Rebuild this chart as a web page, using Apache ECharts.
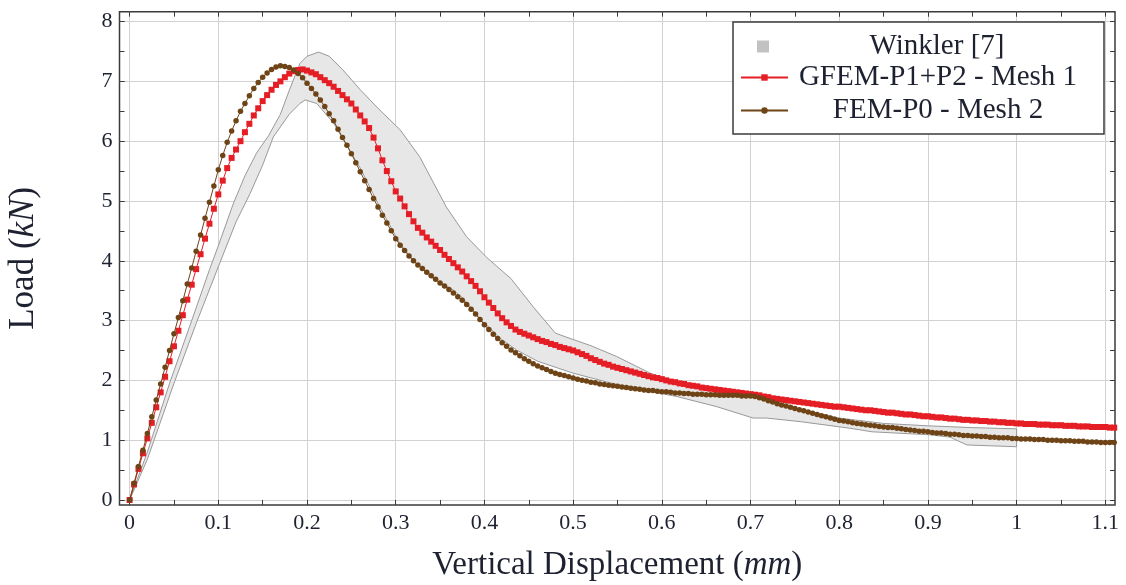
<!DOCTYPE html>
<html>
<head>
<meta charset="utf-8">
<title>Load - Vertical Displacement</title>
<script src="https://cdn.jsdelivr.net/npm/echarts@6/dist/echarts.min.js"></script>
<style>
  html, body { margin: 0; padding: 0; background: #fff; }
  #chart { width: 1126px; height: 585px; }
</style>
</head>
<body>
<div id="chart"></div>
<script>
// displacement step of both numerical curves (mm)
const dispStep = 0.005

// GFEM-P1+P2 - Mesh 1 (kN), one value per step from 0 to 1.11 mm
const gfemLoad = [
  0, 0.26, 0.52, 0.78, 1.03, 1.29, 1.55, 1.80, 2.06, 2.32,
  2.57, 2.83, 3.09, 3.35, 3.60, 3.86, 4.11, 4.37, 4.62, 4.87,
  5.11, 5.34, 5.55, 5.72, 5.86, 6.00, 6.15, 6.29, 6.43, 6.55,
  6.67, 6.77, 6.86, 6.94, 7.00, 7.07, 7.13, 7.17, 7.19, 7.20,
  7.18, 7.15, 7.12, 7.07, 7.02, 6.97, 6.91, 6.84, 6.77, 6.70,
  6.63, 6.53, 6.43, 6.33, 6.22, 6.06, 5.88, 5.68, 5.50, 5.33,
  5.16, 5.04, 4.91, 4.78, 4.66, 4.55, 4.47, 4.39, 4.32, 4.25,
  4.18, 4.10, 4.03, 3.96, 3.89, 3.82, 3.74, 3.66, 3.58, 3.49,
  3.39, 3.30, 3.21, 3.12, 3.04, 2.97, 2.91, 2.85, 2.81, 2.78,
  2.75, 2.72, 2.69, 2.66, 2.64, 2.61, 2.59, 2.56, 2.54, 2.52,
  2.50, 2.47, 2.44, 2.41, 2.37, 2.34, 2.31, 2.28, 2.26, 2.23,
  2.21, 2.19, 2.17, 2.15, 2.13, 2.11, 2.09, 2.07, 2.05, 2.04,
  2.02, 2.00, 1.98, 1.97, 1.95, 1.94, 1.92, 1.91, 1.90, 1.88,
  1.87, 1.86, 1.85, 1.84, 1.83, 1.82, 1.81, 1.80, 1.79, 1.78,
  1.77, 1.76, 1.75, 1.73, 1.72, 1.70, 1.69, 1.68, 1.67, 1.66,
  1.65, 1.64, 1.63, 1.62, 1.61, 1.60, 1.59, 1.58, 1.57, 1.56,
  1.56, 1.55, 1.54, 1.53, 1.52, 1.51, 1.50, 1.50, 1.49, 1.48,
  1.47, 1.46, 1.46, 1.45, 1.44, 1.43, 1.43, 1.42, 1.41, 1.40,
  1.40, 1.39, 1.38, 1.38, 1.37, 1.36, 1.36, 1.35, 1.34, 1.34,
  1.33, 1.33, 1.32, 1.32, 1.31, 1.31, 1.30, 1.30, 1.29, 1.29,
  1.28, 1.28, 1.27, 1.27, 1.27, 1.26, 1.26, 1.26, 1.25, 1.25,
  1.25, 1.24, 1.24, 1.24, 1.23, 1.23, 1.23, 1.22, 1.22, 1.22,
  1.22, 1.21, 1.21
]

// FEM-P0 - Mesh 2 (kN)
const femLoad = [
  0, 0.28, 0.56, 0.83, 1.11, 1.39, 1.67, 1.94, 2.22, 2.50,
  2.78, 3.05, 3.33, 3.61, 3.88, 4.16, 4.43, 4.71, 4.98, 5.25,
  5.52, 5.76, 5.98, 6.17, 6.34, 6.50, 6.63, 6.76, 6.88, 6.98,
  7.07, 7.14, 7.20, 7.24, 7.26, 7.25, 7.23, 7.19, 7.13, 7.06,
  6.97, 6.88, 6.79, 6.69, 6.58, 6.46, 6.34, 6.20, 6.06, 5.93,
  5.79, 5.64, 5.49, 5.34, 5.19, 5.04, 4.90, 4.76, 4.63, 4.50,
  4.37, 4.26, 4.17, 4.08, 4.00, 3.93, 3.87, 3.81, 3.75, 3.69,
  3.63, 3.58, 3.52, 3.46, 3.40, 3.34, 3.27, 3.19, 3.11, 3.02,
  2.93, 2.85, 2.77, 2.70, 2.63, 2.57, 2.51, 2.46, 2.41, 2.36,
  2.32, 2.28, 2.24, 2.21, 2.18, 2.15, 2.12, 2.10, 2.08, 2.06,
  2.04, 2.02, 2.00, 1.99, 1.97, 1.96, 1.94, 1.93, 1.92, 1.91,
  1.90, 1.89, 1.88, 1.87, 1.86, 1.85, 1.84, 1.83, 1.83, 1.82,
  1.81, 1.81, 1.80, 1.79, 1.79, 1.78, 1.78, 1.77, 1.77, 1.77,
  1.76, 1.76, 1.76, 1.75, 1.75, 1.75, 1.75, 1.75, 1.74, 1.74,
  1.74, 1.73, 1.71, 1.69, 1.66, 1.64, 1.61, 1.59, 1.57, 1.55,
  1.53, 1.51, 1.49, 1.47, 1.45, 1.43, 1.41, 1.39, 1.37, 1.35,
  1.33, 1.32, 1.31, 1.29, 1.28, 1.27, 1.26, 1.25, 1.24, 1.23,
  1.22, 1.21, 1.21, 1.20, 1.19, 1.18, 1.17, 1.16, 1.15, 1.15,
  1.14, 1.13, 1.12, 1.12, 1.11, 1.10, 1.10, 1.09, 1.08, 1.08,
  1.07, 1.07, 1.06, 1.06, 1.05, 1.05, 1.04, 1.04, 1.04, 1.03,
  1.03, 1.02, 1.02, 1.02, 1.01, 1.01, 1.01, 1.00, 1.00, 1.00,
  0.99, 0.99, 0.99, 0.98, 0.98, 0.98, 0.97, 0.97, 0.97, 0.96,
  0.96, 0.96, 0.96
]

// Winkler [7] envelope: upper and lower edge, [mm, kN]
const winklerUpper = [
  [0, 0], [0.02, 0.8], [0.045, 1.95], [0.07, 3.0], [0.09, 3.85], [0.1, 4.25],
  [0.117, 4.96], [0.13, 5.42], [0.143, 5.8], [0.157, 6.1], [0.17, 6.45],
  [0.18, 6.85], [0.192, 7.3], [0.2, 7.42], [0.213, 7.49], [0.225, 7.42],
  [0.24, 7.2], [0.26, 6.86], [0.28, 6.55], [0.305, 6.19], [0.327, 5.74],
  [0.357, 4.9], [0.38, 4.4], [0.403, 4.05], [0.43, 3.7], [0.455, 3.23],
  [0.48, 2.79], [0.493, 2.72], [0.52, 2.58], [0.549, 2.4], [0.587, 2.12],
  [0.624, 1.94], [0.66, 1.86], [0.7, 1.78], [0.75, 1.53], [0.8, 1.37],
  [0.85, 1.28], [0.9, 1.24], [0.95, 1.21], [1.0, 1.19]
]
const winklerLower = [
  [0, 0], [0.02, 0.68], [0.05, 1.95], [0.075, 2.95], [0.1, 3.9], [0.12, 4.65],
  [0.136, 5.13], [0.15, 5.6], [0.162, 6.07], [0.18, 6.45], [0.192, 6.63],
  [0.198, 6.69], [0.211, 6.63], [0.23, 6.3], [0.26, 5.55], [0.282, 4.9],
  [0.305, 4.28], [0.32, 4.0], [0.339, 3.73], [0.365, 3.51], [0.376, 3.37],
  [0.395, 3.03], [0.418, 2.7], [0.436, 2.51], [0.46, 2.32], [0.5, 2.12],
  [0.557, 1.9], [0.617, 1.73], [0.662, 1.56], [0.703, 1.37], [0.718, 1.37],
  [0.756, 1.31], [0.812, 1.2], [0.837, 1.14], [0.902, 1.09], [0.925, 1.05],
  [0.944, 0.92], [1.0, 0.89]
]

const xTicks = [0, 0.1, 0.2, 0.3, 0.4, 0.5, 0.6, 0.7, 0.8, 0.9, 1, 1.1]
const xMinorTicks = [0, 0.05, 0.1, 0.15, 0.2, 0.25, 0.3, 0.35, 0.4, 0.45, 0.5, 0.55,
  0.6, 0.65, 0.7, 0.75, 0.8, 0.85, 0.9, 0.95, 1, 1.05, 1.1]
const yTicks = [0, 1, 2, 3, 4, 5, 6, 7, 8]
const yMinorTicks = [0, 0.5, 1, 1.5, 2, 2.5, 3, 3.5, 4, 4.5, 5, 5.5, 6, 6.5, 7, 7.5, 8]

const FONT = '"Liberation Serif", "DejaVu Serif", serif'
const TEXT = '#1d2130'
const TICK = '#3a3a3a'
const X_MIN = -0.0114, X_MAX = 1.1109
const Y_MIN = -0.084, Y_MAX = 8.165

const toPairs = arr => arr.map((v, i) => [+(i * dispStep).toFixed(3), v])

const chart = echarts.init(document.getElementById('chart'))

const tickAxis = (position, ticks) => ({
  type: 'value',
  position: position,
  axisLine: { show: false, onZero: false },
  axisTick: { show: true, inside: true, length: 5, customValues: ticks, lineStyle: { color: TICK, width: 1 } },
  axisLabel: { show: false },
  splitLine: { show: false }
})

const legendText = w => ({
  fontFamily: FONT, fontSize: 29, color: TEXT,
  rich: { t: { width: w, align: 'center', fontFamily: FONT, fontSize: 29, lineHeight: 24, color: TEXT } }
})

const option = {
  animation: false,
  backgroundColor: '#fff',
  grid: {
    left: 119.5, right: 11, top: 11.7, bottom: 80,
    outerBoundsMode: 'none',
    show: true, borderColor: '#3b3b3b', borderWidth: 1.5
  },
  legend: [
    {
      // box of the legend, holds the Winkler entry
      left: 733, top: 22,
      orient: 'vertical',
      padding: [10, 4, 73, 24],
      borderColor: '#3b3b3b', borderWidth: 1.5,
      backgroundColor: '#fff',
      itemWidth: 12, itemHeight: 12, itemGap: 5,
      selectedMode: false,
      data: [{ name: 'Winkler [7]', icon: 'rect', itemStyle: { color: '#c2c2c2' } }],
      formatter: n => '{t|' + n + '}',
      textStyle: legendText(326)
    },
    {
      left: 733, top: 63,
      orient: 'vertical',
      padding: [0, 4, 0, 7],
      itemWidth: 47, itemHeight: 8, itemGap: 4,
      selectedMode: false,
      data: ['GFEM-P1+P2 - Mesh 1', 'FEM-P0 - Mesh 2'],
      formatter: n => '{t|' + n + '}',
      textStyle: legendText(290)
    }
  ],
  xAxis: [
    {
      type: 'value', min: X_MIN, max: X_MAX, position: 'bottom',
      axisLine: { show: false, onZero: false },
      axisTick: { show: true, inside: true, length: 5, customValues: xTicks, lineStyle: { color: TICK, width: 1 } },
      axisLabel: { customValues: xTicks, margin: 7, fontFamily: FONT, fontSize: 22, color: TEXT },
      splitLine: { show: true, lineStyle: { color: '#d2d2d2', width: 1 } },
      name: 'Vertical Displacement ({i|mm})',
      nameLocation: 'middle', nameGap: 44,
      nameTextStyle: {
        fontFamily: FONT, fontSize: 33, color: TEXT,
        rich: { i: { fontFamily: FONT, fontSize: 33, fontStyle: 'italic', color: TEXT } }
      }
    },
    Object.assign(tickAxis('bottom', xMinorTicks), { min: X_MIN, max: X_MAX }),
    Object.assign(tickAxis('top', xMinorTicks), { min: X_MIN, max: X_MAX })
  ],
  yAxis: [
    {
      type: 'value', min: Y_MIN, max: Y_MAX, position: 'left',
      axisLine: { show: false, onZero: false },
      axisTick: { show: true, inside: true, length: 5, customValues: yTicks, lineStyle: { color: TICK, width: 1 } },
      axisLabel: { customValues: yTicks, margin: 7, fontFamily: FONT, fontSize: 22, color: TEXT },
      splitLine: { show: true, lineStyle: { color: '#d2d2d2', width: 1 } },
      name: 'Load ({i|kN})',
      nameLocation: 'middle', nameGap: 78,
      nameTextStyle: {
        fontFamily: FONT, fontSize: 35, color: TEXT,
        rich: { i: { fontFamily: FONT, fontSize: 35, fontStyle: 'italic', color: TEXT } }
      }
    },
    Object.assign(tickAxis('left', yMinorTicks), { min: Y_MIN, max: Y_MAX }),
    Object.assign(tickAxis('right', yMinorTicks), { min: Y_MIN, max: Y_MAX })
  ],
  series: [
    {
      name: 'Winkler [7]',
      type: 'custom',
      coordinateSystem: 'cartesian2d',
      xAxisIndex: 0, yAxisIndex: 0,
      silent: true,
      data: [[0, 0]],
      renderItem: (params, api) => {
        const pts = winklerUpper.map(p => api.coord(p))
          .concat(winklerLower.slice().reverse().map(p => api.coord(p)))
        return {
          type: 'polygon',
          shape: { points: pts },
          style: { fill: '#e7e7e7', stroke: '#8e8e8e', lineWidth: 0.9 }
        }
      },
      itemStyle: { color: '#c2c2c2' },
      z: 1
    },
    {
      name: 'GFEM-P1+P2 - Mesh 1',
      type: 'line',
      data: toPairs(gfemLoad),
      clip: false,
      symbol: 'rect',
      symbolSize: 6,
      itemStyle: { color: '#e51d25' },
      lineStyle: { color: '#e51d25', width: 1 },
      z: 3
    },
    {
      name: 'FEM-P0 - Mesh 2',
      type: 'line',
      data: toPairs(femLoad),
      clip: false,
      symbol: 'circle',
      symbolSize: 5.5,
      itemStyle: { color: '#6e4417' },
      lineStyle: { color: '#6e4417', width: 1 },
      z: 4
    }
  ]
}

chart.setOption(option)
window.addEventListener('resize', () => chart.resize())
</script>
</body>
</html>
